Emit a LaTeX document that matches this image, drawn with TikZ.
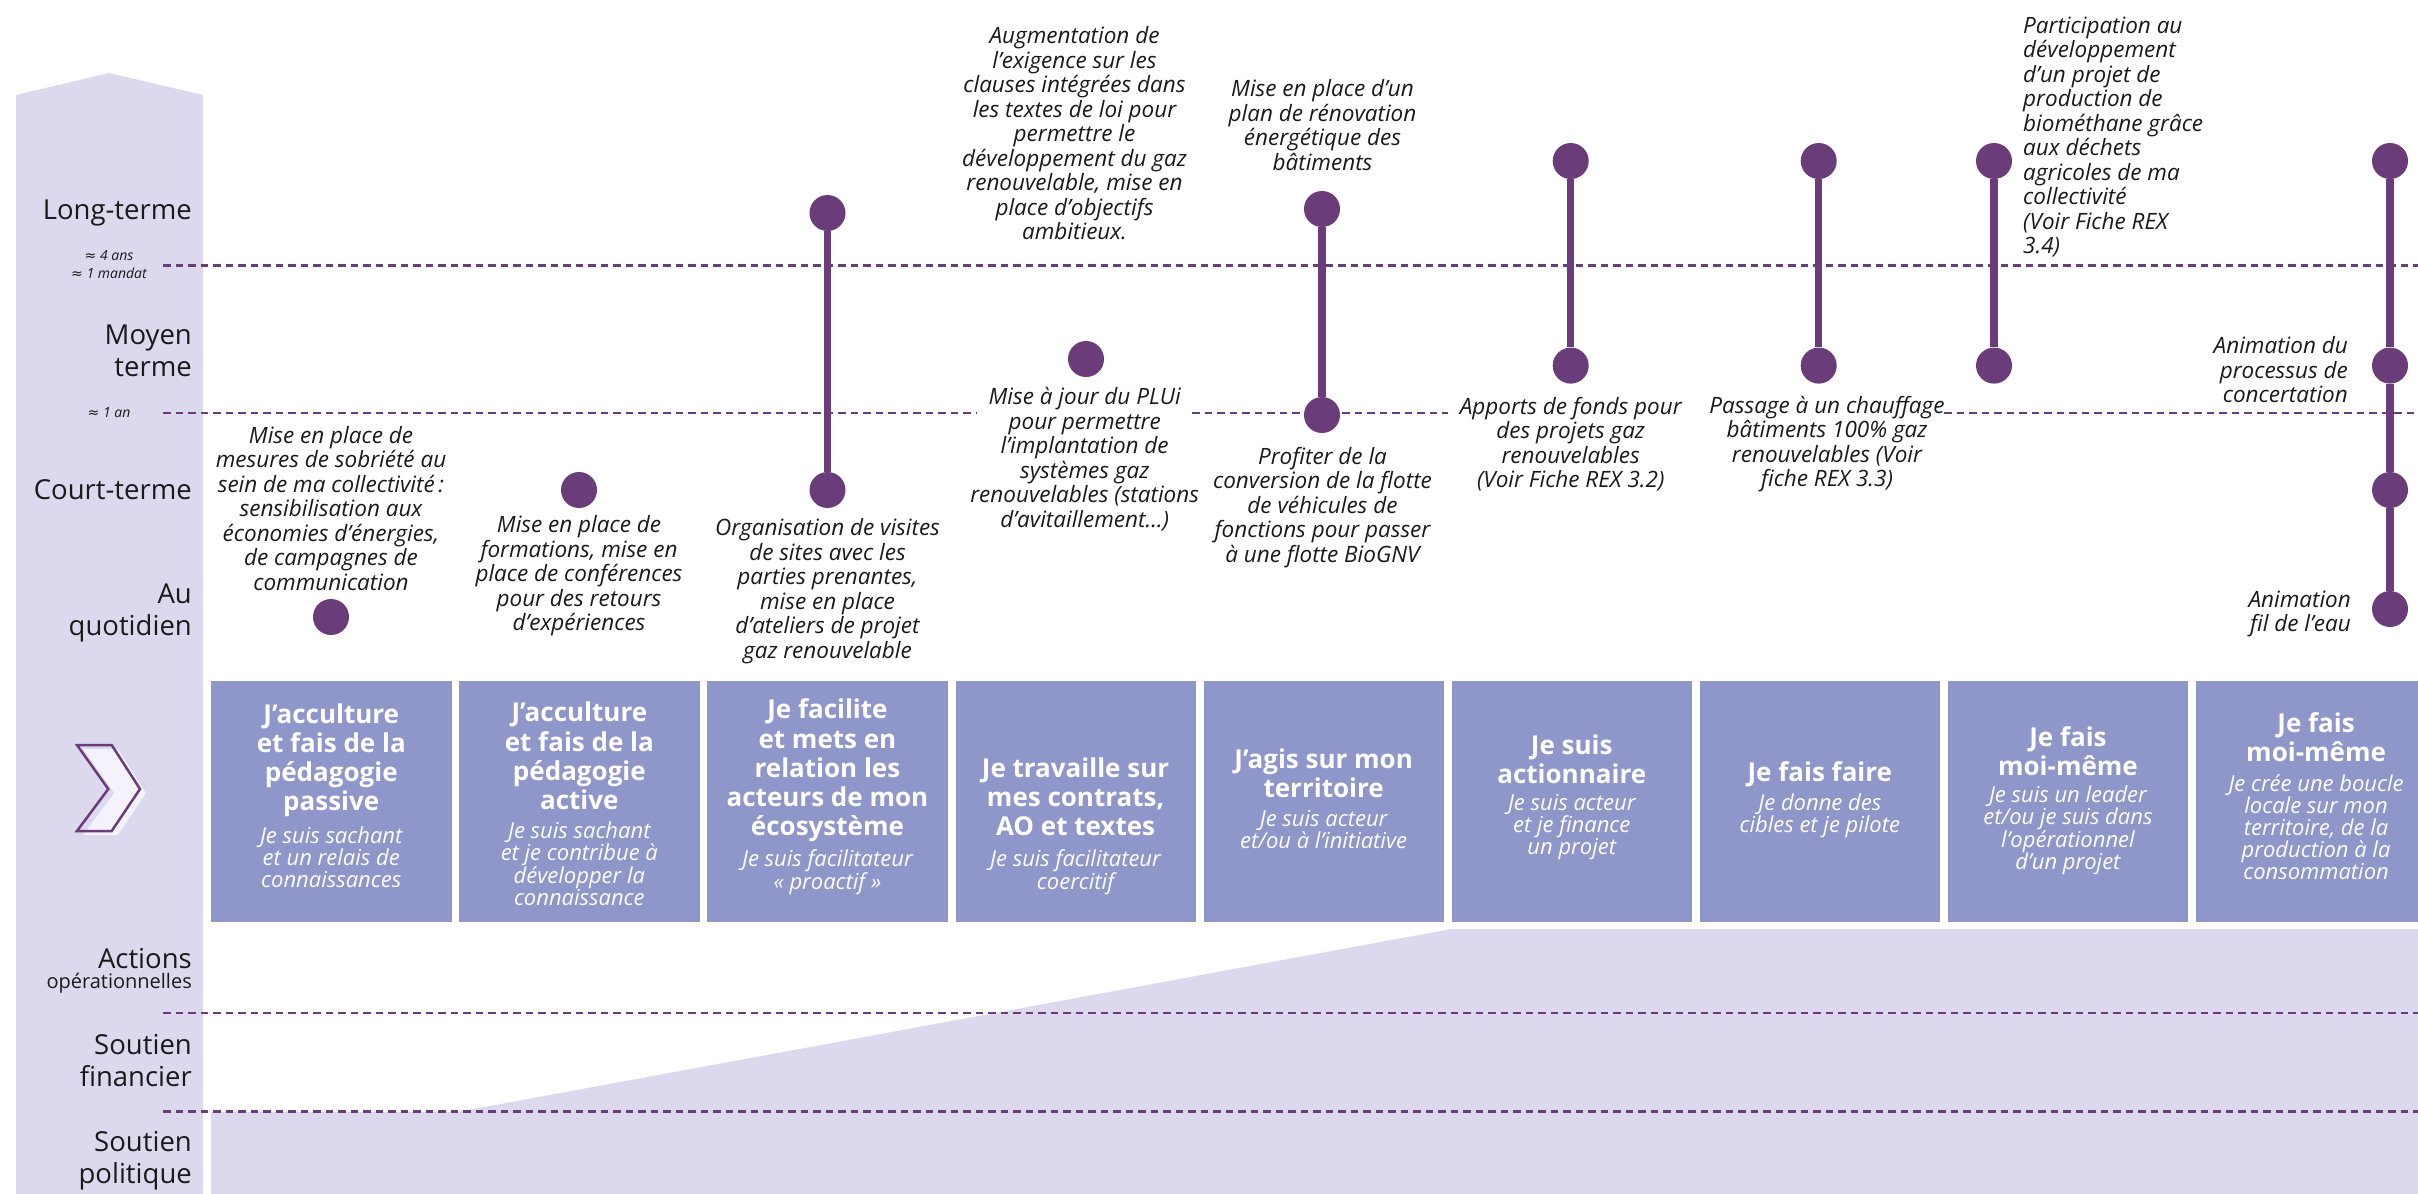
\documentclass[tikz,border=0pt]{standalone}
\usepackage{fontspec}
\setmainfont{Open Sans}
\newfontfamily\symf{DejaVu Sans}
\definecolor{band}{HTML}{DCD9EE}
\definecolor{boxc}{HTML}{8F96CA}
\definecolor{purp}{HTML}{6A3D7A}
\definecolor{ink}{HTML}{1A1A1A}
\definecolor{chevfill}{HTML}{F4F2FA}
\tikzset{
  axislbl/.style={anchor=east, align=right, font=\fontsize{27.5}{32}\selectfont, text=ink, inner sep=0pt},
  smalllbl/.style={font=\itshape\fontsize{14}{17}\selectfont, align=center, inner sep=0pt, text=ink},
  annot/.style={font=\itshape\fontsize{22.5}{24.5}\selectfont, align=center, inner sep=0pt, text=ink},
  boxr/.style={fill=boxc, draw=none, minimum width=240.5pt, minimum height=241pt, inner sep=0pt, anchor=north west},
  bhead/.style={font=\bfseries\fontsize{26}{29.3}\selectfont, text=white, align=center, inner sep=0pt},
  bsub/.style={font=\itshape\fontsize{22}{22}\selectfont, text=white, align=center, inner sep=0pt},
  tdot/.style={circle, fill=purp, minimum size=36pt, inner sep=0pt},
  tbar/.style={line width=7.3pt, draw=purp},
  dashl/.style={draw=purp, line width=2.2pt, dash pattern=on 7.5pt off 5pt},
}
\begin{document}
\begin{tikzpicture}[x=1pt,y=-1pt]
\useasboundingbox (0,0) rectangle (2418,1194);
\clip (0,0) rectangle (2418,1194);
\fill[white] (0,0) rectangle (2418,1194);
% left band
\fill[band] (16,1194) -- (16,95) -- (109,73) -- (203,95) -- (203,1194) -- cycle;
% lower lavender area
\fill[band] (211,1194) -- (211,1111.5) -- (460,1111.5) -- (1451,929) -- (2418,929) -- (2418,1194) -- cycle;
% boxes
\foreach \i in {0,...,8}{
  \node[boxr] (b\i) at ({211+248.1*\i},681) {};
}
% dashed lines
\draw[dashl] (163,265.5) -- (2418,265.5);
\draw[dashl] (163,413) -- (976,413);
\draw[dashl] (1192,413) -- (1448,413);
\draw[dashl] (1944,413) -- (2418,413);
\draw[dashl] (163,1013) -- (2418,1013);
\draw[dashl] (163,1111.5) -- (2418,1111.5);
% chevron icon
\fill[chevfill] (83,749) -- (117.7,749) -- (146,793) -- (117.7,835) -- (83,835) -- (114.3,793) -- cycle;
\draw[purp, line width=2.5pt, line join=miter] (77,745) -- (111.7,745) -- (140,789) -- (111.7,831) -- (77,831) -- (108.3,789) -- cycle;
% axis labels
\node[axislbl] (lt) at (192,213) {Long-terme};
\node[smalllbl] (s4a) at (109,256) {{\symf ≈} 4 ans};
\node[smalllbl] (s1m) at (109,273) {{\symf ≈} 1 mandat};
\node[axislbl] (mt) at (192,351) {Moyen\\terme};
\node[smalllbl] (s1a) at (109,413) {{\symf ≈} 1 an};
\node[axislbl] (ct) at (192,490) {Court-terme};
\node[axislbl] (aq) at (192,613) {Au\\quotidien};
\node[axislbl] (ac) at (192,959) {Actions};
\node[axislbl, font=\fontsize{20}{22}\selectfont] (op) at (192,983) {opérationnelles};
\node[axislbl] (sf) at (192,1060.5) {Soutien\\financier};
\node[axislbl] (sp) at (192,1161) {Soutien\\politique};
% annotations
\node[annot] (a1) at (331,508.5) {Mise en place de\\mesures de sobriété au\\sein de ma collectivité\,:\\sensibilisation aux\\économies d’énergies,\\de campagnes de\\communication};
\node[annot] (a2) at (579,576) {Mise en place de\\formations, mise en\\place de conférences\\pour des retours\\d’expériences};
\node[annot] (a3) at (827.5,591) {Organisation de visites\\de sites avec les\\parties prenantes,\\mise en place\\d’ateliers de projet\\gaz renouvelable};
\node[annot] (a4) at (1074.5,133.5) {Augmentation de\\l’exigence sur les\\clauses intégrées dans\\les textes de loi pour\\permettre le\\développement du gaz\\renouvelable, mise en\\place d’objectifs\\ambitieux.};
\node[annot] (a5) at (1084.7,459) {Mise à jour du PLUi\\pour permettre\\l’implantation de\\systèmes gaz\\renouvelables (stations\\d’avitaillement…)};
\node[annot] (a6) at (1322.5,125) {Mise en place d’un\\plan de rénovation\\énergétique des\\bâtiments};
\node[annot] (a7) at (1322.5,507.5) {Profiter de la\\conversion de la flotte\\de véhicules de\\fonctions pour passer\\à une flotte BioGNV};
\node[annot] (a8) at (1570.7,444) {Apports de fonds pour\\des projets gaz\\renouvelables\\(Voir Fiche REX 3.2)};
\node[annot] (a9) at (1827,444) {Passage à un chauffage\\bâtiments 100\% gaz\\renouvelables (Voir\\fiche REX 3.3)};
\node[annot, align=left, anchor=west] (a10) at (2023,137) {Participation au\\développement\\d’un projet de\\production de\\biométhane grâce\\aux déchets\\agricoles de ma\\collectivité\\(Voir Fiche REX\\3.4)};
\node[annot, align=right, anchor=east] (a11) at (2348,370) {Animation du\\processus de\\concertation};
\node[annot, align=right, anchor=east] (a12) at (2351,614) {Animation\\fil de l’eau};
% dots
\node[tdot] (d1) at (331,617) {};
\node[tdot] (d2) at (579,490) {};
\node[tdot] (d3t) at (827.5,213) {};
\node[tdot] (d3b) at (827.5,490) {};
\node[tdot] (d4) at (1086,359) {};
\node[tdot] (d5t) at (1322,209) {};
\node[tdot] (d5b) at (1322,415) {};
\node[tdot] (d6t) at (1570.7,161) {};
\node[tdot] (d6b) at (1570.7,365.6) {};
\node[tdot] (d7t) at (1818.7,161) {};
\node[tdot] (d7b) at (1818.7,365.6) {};
\node[tdot] (d8t) at (1994,161) {};
\node[tdot] (d8b) at (1994,365.6) {};
\node[tdot] (d9a) at (2390,161) {};
\node[tdot] (d9b) at (2390,365.6) {};
\node[tdot] (d9c) at (2390,490) {};
\node[tdot] (d9d) at (2390,609) {};
% bars
\draw[tbar] (d3t) -- (d3b);
\draw[tbar] (d5t) -- (d5b);
\draw[tbar] (d6t) -- (d6b);
\draw[tbar] (d7t) -- (d7b);
\draw[tbar] (d8t) -- (d8b);
\draw[tbar] (d9a) -- (d9b);
\draw[tbar] (d9b) -- (d9c);
\draw[tbar] (d9c) -- (d9d);
% box texts
\node[bhead] (h0) at (331.25,760.2) {J’acculture\\et fais de la\\pédagogie\\passive};
\node[bsub] (s0) at (331.25,857.3) {Je suis sachant\\et un relais de\\connaissances};
\node[bhead] (h1) at (579.35,755.9) {J’acculture\\et fais de la\\pédagogie\\active};
\node[bsub] (s1) at (579.35,863.4) {Je suis sachant\\et je contribue à\\développer la\\connaissance};
\node[bhead] (h2) at (827.45,770.5) {Je facilite\\et mets en\\relation les\\acteurs de mon\\écosystème};
\node[bsub] (s2) at (827.45,872) {Je suis facilitateur\\« proactif »};
\node[bhead] (h3) at (1075.55,796.6) {Je travaille sur\\mes contrats,\\AO et textes};
\node[bsub] (s3) at (1075.55,872) {Je suis facilitateur\\coercitif};
\node[bhead] (h4) at (1323.65,772.9) {J’agis sur mon\\territoire};
\node[bsub] (s4) at (1323.65,829.1) {Je suis acteur\\et/ou à l’initiative};
\node[bhead] (h5) at (1571.75,759.5) {Je suis\\actionnaire};
\node[bsub] (s5) at (1571.75,826.9) {Je suis acteur\\et je finance\\un projet};
\node[bhead] (h6) at (1819.85,774) {Je fais faire};
\node[bsub] (s6) at (1819.85,815.9) {Je donne des\\cibles et je pilote};
\node[bhead] (h7) at (2067.95,751.1) {Je fais\\moi-même};
\node[bsub] (s7) at (2067.95,830.2) {Je suis un leader\\et/ou je suis dans\\l’opérationnel\\d’un projet};
\node[bhead] (h8) at (2316.05,737.5) {Je fais\\moi-même};
\node[bsub] (s8) at (2316.05,827.6) {Je crée une boucle\\locale sur mon\\territoire, de la\\production à la\\consommation};
\end{tikzpicture}
\end{document}
